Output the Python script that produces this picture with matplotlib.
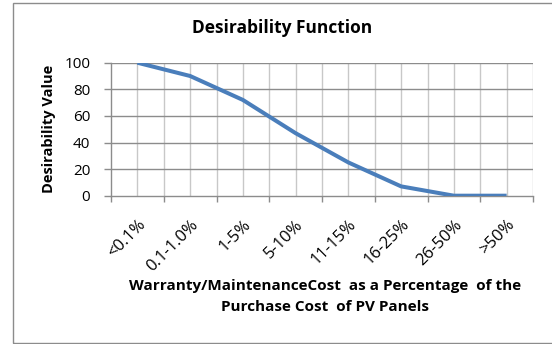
import numpy as np
import matplotlib
matplotlib.use('Agg')
import matplotlib.pyplot as plt
from matplotlib.patches import Rectangle

plt.rcParams['font.family'] = ['Open Sans', 'DejaVu Sans']

categorias = ['<0.1%', '0.1-1.0%', '1-5%', '5-10%', '11-15%', '16-25%', '26-50%', '>50%']
deseabilidad = [100, 90, 72, 47, 25, 7, 0, 0]
yticks = [0, 20, 40, 60, 80, 100]

W, H = 552, 344
fig = plt.figure(figsize=(W / 100, H / 100), dpi=100)

# marco exterior del grafico
fig.patches.append(Rectangle((12.7 / W, 1 - 342.7 / H), 1.0, (342.7 - 2.7) / H,
                             transform=fig.transFigure, fill=False,
                             edgecolor='#8c8c8c', linewidth=1.0))

ax = fig.add_axes([111 / W, 1 - 195.7 / H, (533 - 111) / W, (195.7 - 62.7) / H])

x = np.arange(len(categorias))
ax.plot(x, deseabilidad, color='#4a7ebb', linewidth=2.9, solid_capstyle='butt', zorder=3)

n = len(categorias)
ax.set_xlim(-0.5, n - 0.5)
ax.set_ylim(0, 100)

# lineas verticales en bordes y centros de categoria
for xv in np.arange(-0.5, n, 0.5):
    if xv > -0.5:
        ax.axvline(xv, color='#c8c8c8', linewidth=1.0, zorder=1)
for yv in yticks[1:]:
    ax.axhline(yv, color='#8c8c8c', linewidth=1.0, zorder=1)

ax.set_xticks(np.arange(-0.5, n, 1.0))
ax.set_xticklabels([])
ax.set_xticks(x, minor=True)
ax.set_xticklabels(categorias, minor=True, rotation=45, ha='right',
                   rotation_mode='anchor', fontsize=12)
ax.tick_params(axis='x', which='major', length=4, width=1, color='#8c8c8c', direction='out')
ax.tick_params(axis='x', which='minor', length=0, pad=15)

ax.set_yticks(yticks)
ax.set_yticklabels([str(v) for v in yticks], fontsize=11)
ax.tick_params(axis='y', length=5, width=1, color='#8c8c8c', pad=10)

for s in ['top', 'right']:
    ax.spines[s].set_visible(False)
for s in ['left', 'bottom']:
    ax.spines[s].set_color('#8c8c8c')
    ax.spines[s].set_linewidth(1.0)

ax.set_ylabel('Desirability Value', fontsize=10.5, fontweight='bold', labelpad=6)

fig.text(282 / W, 1 - 28 / H, 'Desirability Function', ha='center', va='center',
         fontsize=12.5, fontweight='bold')
fig.text(325 / W, 1 - 286 / H, 'Warranty/MaintenanceCost  as a Percentage  of the',
         ha='center', va='center', fontsize=11, fontweight='bold')
fig.text(325 / W, 1 - 307 / H, 'Purchase Cost  of PV Panels',
         ha='center', va='center', fontsize=11, fontweight='bold')

fig.savefig('out.png', dpi=100)
